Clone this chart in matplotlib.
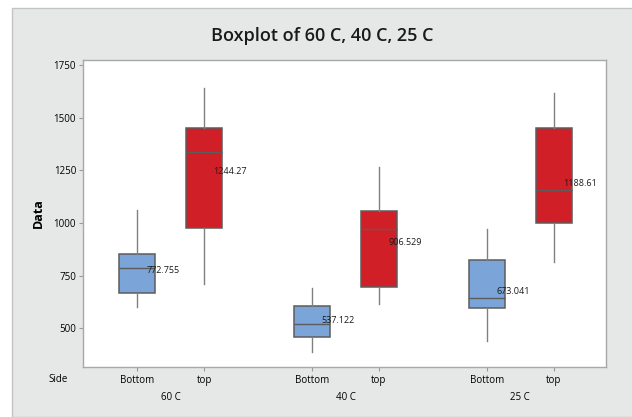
import matplotlib
matplotlib.use("Agg")
import matplotlib.pyplot as plt
from matplotlib.patches import Rectangle

# data
temps = ["60 C", "40 C", "25 C"]
sides = ["Bottom", "top"]
whislo = [602, 710, 385, 617, 438, 813]
q1 = [666, 975, 460, 696, 596, 1001]
med = [785, 1337, 518, 970, 645, 1157]
q3 = [853, 1450, 605, 1057, 824, 1450]
whishi = [1062, 1640, 692, 1268, 970, 1616]
means = [772.755, 1244.27, 537.122, 906.529, 673.041, 1188.61]
mean_labels = ["772.755", "1244.27", "537.122", "906.529", "673.041", "1188.61"]

positions = [1, 2, 3.61, 4.61, 6.22, 7.22]
colors = ["#7ba4d8", "#d01f27"] * 3

plt.rcParams['font.family'] = ['Open Sans', 'DejaVu Sans']

fig = plt.figure(figsize=(6.32, 4.17), dpi=100)
# grey panel behind the plot
fig.patches.append(Rectangle((12 / 632, 0), 1, 1 - 8 / 417, transform=fig.transFigure,
                             facecolor="#e6e7e7", edgecolor="#c4c4c4", lw=1, zorder=-10))
ax = fig.add_axes([83 / 632, 50 / 417, 523 / 632, 307 / 417])

stats = []
for i in range(len(positions)):
    stats.append(dict(whislo=whislo[i], q1=q1[i], med=med[i], q3=q3[i],
                      whishi=whishi[i], fliers=[]))

bp = ax.bxp(stats, positions=positions, widths=0.54, patch_artist=True,
            showcaps=False, showfliers=False,
            boxprops=dict(edgecolor="#5c5c5c", linewidth=1.1),
            medianprops=dict(color="#5c5c5c", linewidth=1.0),
            whiskerprops=dict(color="#808080", linewidth=1.0))
for patch, c in zip(bp["boxes"], colors):
    patch.set_facecolor(c)

for x, m, lab in zip(positions, means, mean_labels):
    ax.text(x + 0.14, m, lab, fontsize=6.5, va="center", ha="left", color="#1a1a1a")

ax.set_xlim(0.19, 8.0)
ax.set_ylim(316, 1775)
ax.set_yticks([500, 750, 1000, 1250, 1500, 1750])
ax.set_xticks(positions)
ax.set_xticklabels(sides * 3)
ax.tick_params(axis="both", labelsize=7, color="#9a9a9a", length=3, pad=2)
ax.tick_params(axis="x", pad=3)
for s in ax.spines.values():
    s.set_color("#a8a8a8")
    s.set_linewidth(1.0)

for i, t in enumerate(temps):
    xc = (positions[2 * i] + positions[2 * i + 1]) / 2
    ax.text(xc, -0.1, t, transform=ax.get_xaxis_transform(), fontsize=7,
            ha="center", va="center")
fig.text(58 / 632, 1 - 380 / 417, "Side", fontsize=7, ha="center", va="center")

fig.text(38 / 632, 1 - 213 / 417, "Data", rotation=90, fontsize=9, fontweight="bold",
         ha="center", va="center")
fig.text(322 / 632, 1 - 36 / 417, "Boxplot of 60 C, 40 C, 25 C", fontsize=13,
         fontweight="semibold", ha="center", va="center", color="#1a1a1a")

fig.savefig("out.png", dpi=100)
